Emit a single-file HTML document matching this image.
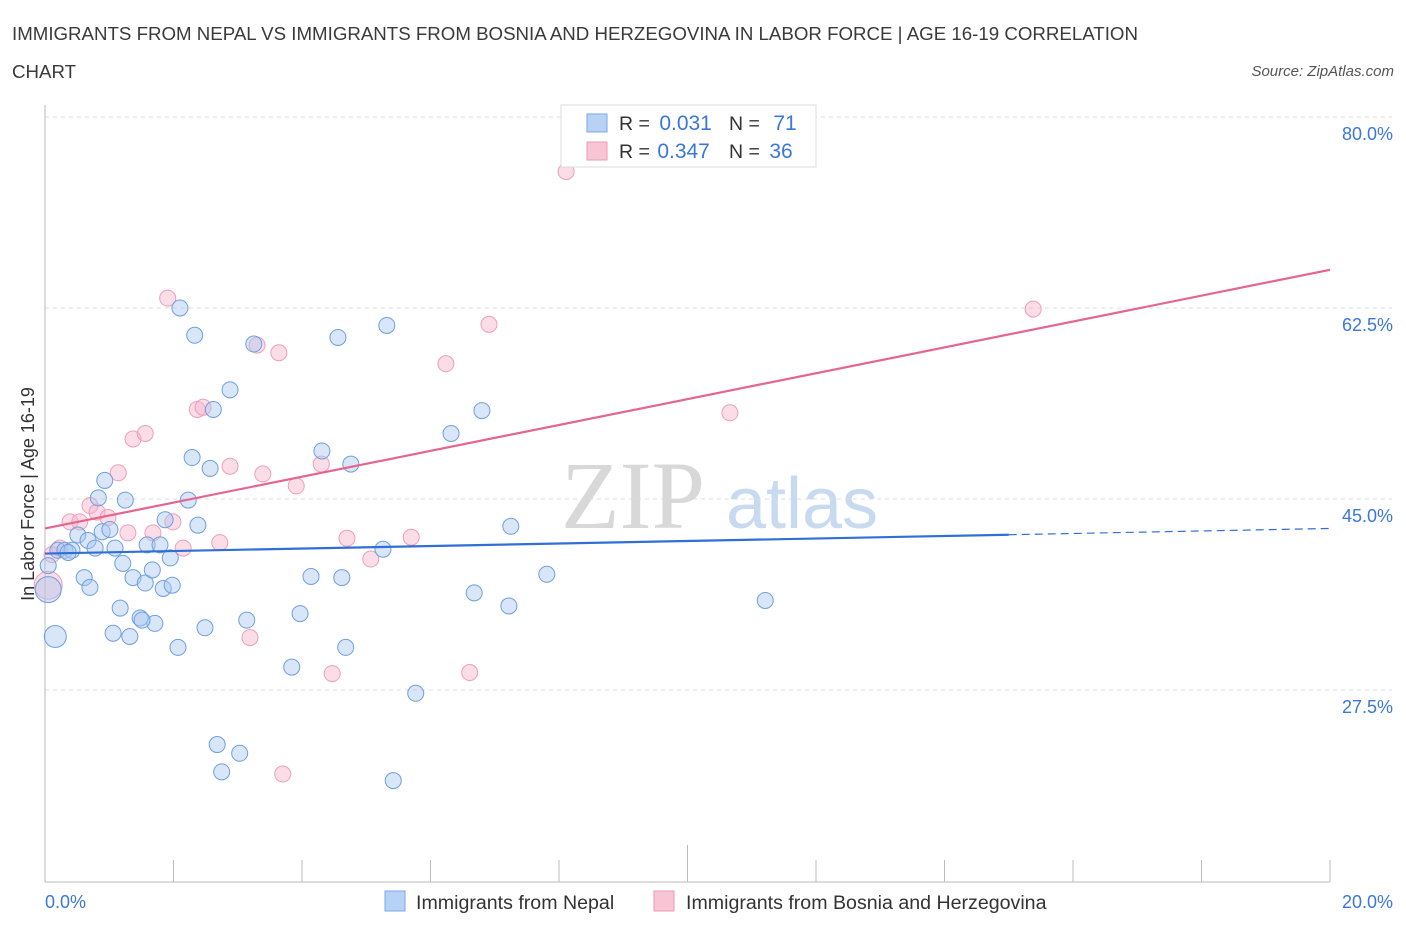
<!DOCTYPE html>
<html><head><meta charset="utf-8">
<style>
body{margin:0;background:#fff;font-family:"Liberation Sans",sans-serif;}
svg{display:block}
</style></head>
<body>
<svg id="chart" width="1406" height="930" xmlns="http://www.w3.org/2000/svg">
<text x="12" y="40" font-size="18.7" fill="#3a3a3a">IMMIGRANTS FROM NEPAL VS IMMIGRANTS FROM BOSNIA AND HERZEGOVINA IN LABOR FORCE | AGE 16-19 CORRELATION</text>
<text x="12" y="78" font-size="18.7" fill="#3a3a3a">CHART</text>
<text x="1394" y="76" font-size="15" font-style="italic" fill="#555" text-anchor="end">Source: ZipAtlas.com</text>
<g>
<text x="633" y="528" font-size="96" font-family="Liberation Serif,serif" fill="#d8d8d8" text-anchor="middle">ZIP</text>
<text x="802" y="528" font-size="72" fill="#c8daf0" text-anchor="middle">atlas</text>
</g>
<g id="grid"></g>
<g id="axes"></g>
<g id="marks"></g>
<text x="34" y="494" font-size="18" fill="#333" text-anchor="middle" transform="rotate(-90 34 494)">In Labor Force | Age 16-19</text>
<g>
<rect x="561" y="105" width="255" height="62" fill="#fff" stroke="#ddd"/>
<rect x="587" y="114" width="20" height="18" fill="#b8d2f5" stroke="#7aa8e6"/>
<text x="619" y="130" font-size="19.5" fill="#333">R = <tspan fill="#3b77d8" dx="4" font-size="21">0.031</tspan></text>
<text x="729" y="130" font-size="19.5" fill="#333">N = <tspan fill="#3b77d8" dx="8" font-size="21">71</tspan></text>
<rect x="587" y="142" width="20" height="18" fill="#f8c5d5" stroke="#ec9ab4"/>
<text x="619" y="158" font-size="19.5" fill="#333">R = <tspan fill="#3b77d8" dx="2" font-size="21">0.347</tspan></text>
<text x="729" y="158" font-size="19.5" fill="#333">N = <tspan fill="#3b77d8" dx="4" font-size="21">36</tspan></text>
</g>
<g>
<rect x="385" y="891" width="20" height="20" fill="#b8d2f5" stroke="#7aa8e6"/>
<text x="416" y="909" font-size="19.6" fill="#333">Immigrants from Nepal</text>
<rect x="654" y="891" width="20" height="20" fill="#f8c5d5" stroke="#ec9ab4"/>
<text x="686" y="909" font-size="19.6" fill="#333">Immigrants from Bosnia and Herzegovina</text>
</g>
</svg>
<script>
const yTicks=[80,62.5,45,27.5];
const yTickLabels=["80.0%","62.5%","45.0%","27.5%"];
const xTicks=[0,2,4,6,8,10,12,14,16,18,20];
const nepalX=[0.16,0.05,0.05,0.2,0.31,0.42,0.36,0.51,0.67,0.78,0.83,0.93,0.89,1.01,1.09,1.25,0.61,0.70,1.17,1.06,1.21,1.32,1.37,1.48,1.56,1.67,1.71,1.59,1.79,1.84,1.98,1.95,1.87,2.07,2.10,2.23,2.29,2.33,2.38,2.49,2.57,2.62,2.88,2.68,2.75,3.03,3.14,3.25,3.84,3.97,4.14,4.31,4.56,4.62,4.68,4.76,5.26,5.32,5.77,5.42,6.32,6.68,6.80,7.22,7.25,7.81,11.21,1.51];
const nepalY=[32.4,36.7,38.9,40.3,40.3,40.3,40.1,41.7,41.2,40.5,45.1,46.7,42.0,42.2,40.5,44.9,37.8,36.9,35.0,32.7,39.1,32.4,37.8,34.1,37.3,38.5,33.6,40.8,40.8,36.8,37.1,39.6,43.1,31.4,62.5,44.9,48.8,60.0,42.6,33.2,47.8,53.2,55.0,22.5,20.0,21.7,33.9,59.2,29.6,34.5,37.9,49.4,59.8,37.8,31.4,48.2,40.4,60.9,27.2,19.2,51.0,36.4,53.1,35.2,42.5,38.1,35.7,33.9];
const nepalSize=[11,13,8,8,8,8,8,8,8,8,8,8,8,8,8,8,8,8,8,8,8,8,8,8,8,8,8,8,8,8,8,8,8,8,8,8,8,8,8,8,8,8,8,8,8,8,8,8,8,8,8,8,8,8,8,8,8,8,8,8,8,8,8,8,8,8,8,8];
const bosX=[0.05,0.11,0.23,0.39,0.54,0.70,0.81,0.98,1.14,1.29,1.37,1.56,1.68,1.91,1.99,2.15,2.37,2.46,2.72,2.88,3.19,3.30,3.39,3.64,3.70,3.91,4.30,4.47,4.70,5.07,5.70,6.24,6.61,6.91,8.11,10.66,15.38];
const bosY=[37.1,39.9,40.5,42.9,42.9,44.4,43.8,43.3,47.4,41.9,50.5,51.0,41.9,63.4,42.9,40.5,53.2,53.4,41.0,48.0,32.3,59.1,47.3,58.4,19.8,46.2,48.2,29.0,41.4,39.5,41.5,57.4,29.1,61.0,75.0,52.9,62.4];
const bosSize=[14,8,8,8,8,8,8,8,8,8,8,8,8,8,8,8,8,8,8,8,8,8,8,8,8,8,8,8,8,8,8,8,8,8,8,8,8];
const nepalTrend=[40.0,42.3];
const nepalSolidEnd=15.0;
const bosTrend=[42.3,66.0];

const X0=45,X1=1330,YTOP=117,PXPER=10.914,YBOT=882;
const xs=v=>X0+(v/20)*(X1-X0);
const ys=v=>YTOP+(80-v)*PXPER;
const NS="http://www.w3.org/2000/svg";
function mk(tag,attrs,parent){const e=document.createElementNS(NS,tag);for(const k in attrs)e.setAttribute(k,attrs[k]);parent.appendChild(e);return e;}
const grid=document.getElementById('grid'),axes=document.getElementById('axes'),marks=document.getElementById('marks');
yTicks.forEach((t,i)=>{
 const l=mk('line',{x1:X0,x2:1392,y1:ys(t),y2:ys(t),stroke:'#ddd','stroke-dasharray':'4,4'},grid);
 
 
 const tx=mk('text',{x:1393,y:ys(t)+23,'font-size':18,fill:'#3b77d8','text-anchor':'end'},axes);
 tx.textContent=yTickLabels[i];
 
 
});
const ya=mk('line',{x1:X0,x2:X0,y1:105,y2:YBOT,stroke:'#bbb'},axes);


const xa=mk('line',{x1:X0,x2:X1,y1:YBOT,y2:YBOT,stroke:'#bbb'},axes);


xTicks.forEach(t=>{
 const l=mk('line',{x1:xs(t),x2:xs(t),y1:t===10?845:860,y2:YBOT,stroke:'#bbb'},axes);
 
 
});
const xl0=mk('text',{x:45,y:908,'font-size':18,fill:'#3b77d8'},axes);xl0.textContent='0.0%';


const xl1=mk('text',{x:1393,y:908,'font-size':18,fill:'#3b77d8','text-anchor':'end'},axes);xl1.textContent='20.0%';



bosX.forEach((v,i)=>{
 const c=mk('circle',{cx:xs(v),cy:ys(bosY[i]),r:bosSize[i],fill:'rgba(246,180,203,0.45)',stroke:'#ee9fb8','stroke-width':1},marks);
 
 
});
nepalX.forEach((v,i)=>{
 const c=mk('circle',{cx:xs(v),cy:ys(nepalY[i]),r:nepalSize[i],fill:'rgba(168,199,240,0.45)',stroke:'#6e9fe0','stroke-width':1},marks);
 
 
});
const nAt=x=>nepalTrend[0]+(nepalTrend[1]-nepalTrend[0])*x/20;
const t1=mk('line',{x1:xs(0),y1:ys(nAt(0)),x2:xs(nepalSolidEnd),y2:ys(nAt(nepalSolidEnd)),stroke:'#2f6fd6','stroke-width':2.2},marks);


const t2=mk('line',{x1:xs(nepalSolidEnd),y1:ys(nAt(nepalSolidEnd)),x2:xs(20),y2:ys(nAt(20)),stroke:'#2f6fd6','stroke-width':1.2,'stroke-dasharray':'8,5'},marks);


const t3=mk('line',{x1:xs(0),y1:ys(bosTrend[0]),x2:xs(20),y2:ys(bosTrend[1]),stroke:'#e4668f','stroke-width':2.2},marks);


</script>
</body></html>
